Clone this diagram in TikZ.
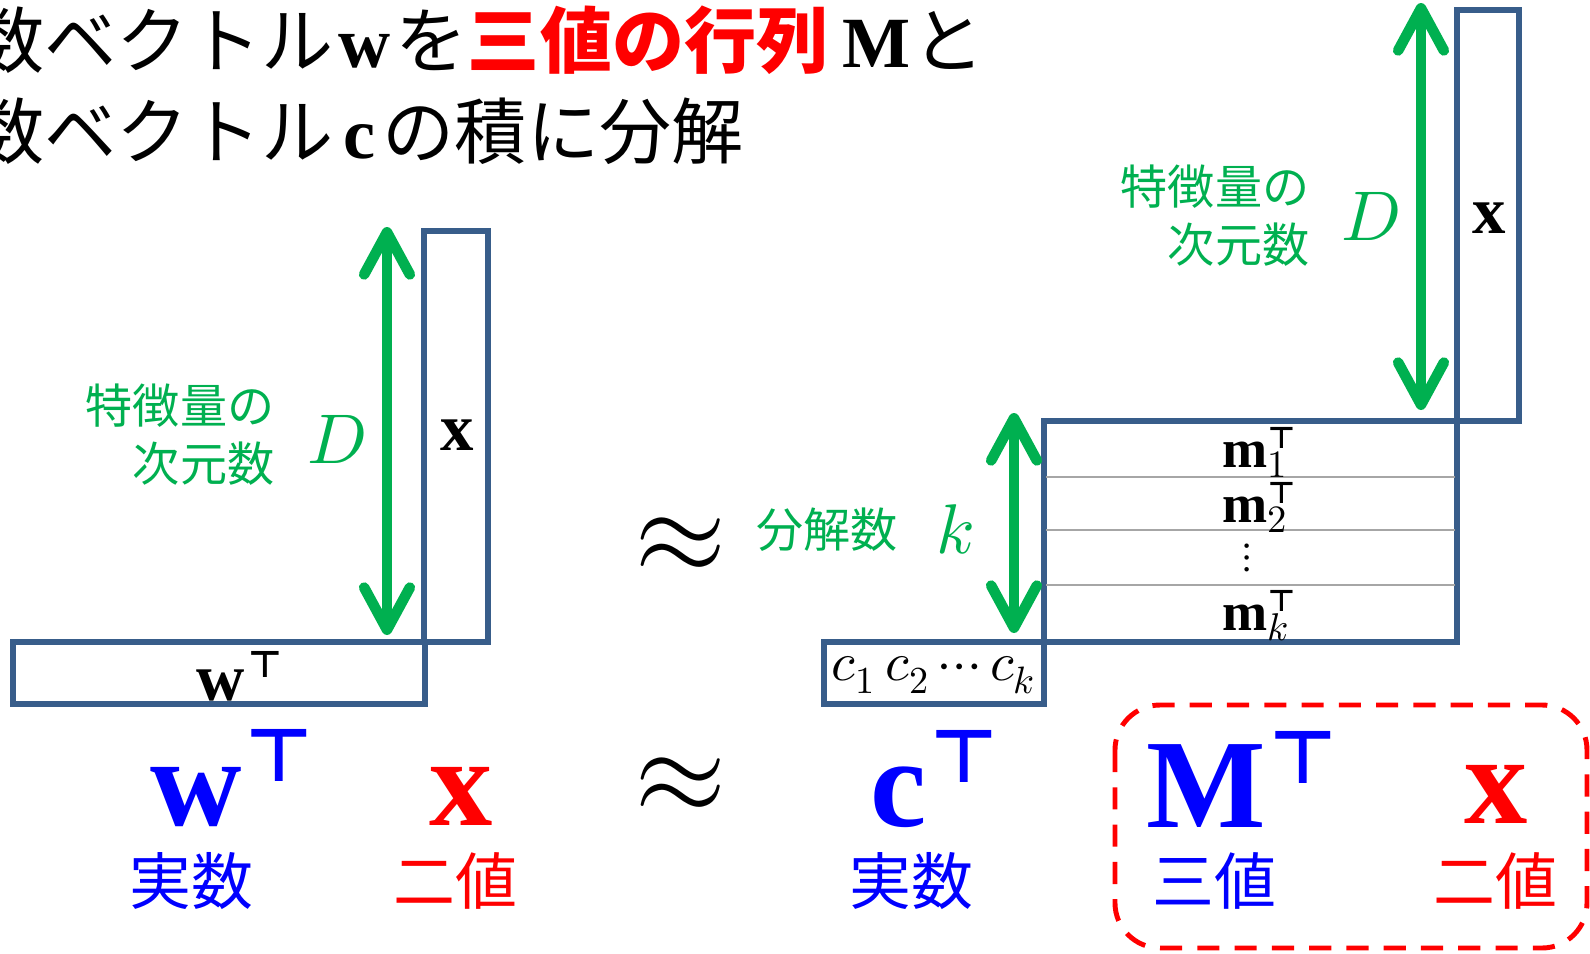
\documentclass[tikz,border=0pt]{standalone}
\usepackage{fontspec}
\usepackage{unicode-math}
\newfontfamily\jpfont{Noto Sans CJK JP}
\newfontfamily\vecfont{Liberation Serif}
\newfontfamily\symfont{DejaVu Sans}
\newcommand{\vb}[1]{{\vecfont\bfseries #1}}
\newcommand{\tp}[2]{\raisebox{#2}{\symfont\bfseries\fontsize{#1}{#1}\selectfont ⊤}}
\newcommand{\rowsub}[1]{\raisebox{-3pt}{\fontsize{11}{11}\selectfont$#1$}}
\usetikzlibrary{arrows.meta}
\definecolor{boxblue}{HTML}{385D8A}
\definecolor{dimgreen}{HTML}{00B050}
\definecolor{rowgray}{HTML}{A6A6A6}
\tikzset{
  matbox/.style={draw=boxblue, line width=1.5pt},
  dimarrow/.style={<->, draw=dimgreen, line width=3pt},
  dimtext/.style={text=dimgreen, inner sep=0pt, align=right, font=\jpfont\fontsize{13.4}{16.5}\selectfont},
  dimsym/.style={text=dimgreen, inner sep=0pt, anchor=base, font=\fontsize{20}{24}\selectfont},
  boxlabel/.style={inner sep=0pt, anchor=base, font=\fontsize{19}{23}\selectfont},
  rowlabel/.style={inner sep=0pt, anchor=base west, font=\fontsize{15.4}{18}\selectfont},
  biglabel/.style={inner sep=0pt, anchor=base west, font=\fontsize{36}{43}\selectfont},
  kindlabel/.style={inner sep=0pt, font=\jpfont\fontsize{17.6}{21}\selectfont},
  approxsym/.style={inner sep=0pt, font=\fontsize{34}{40}\selectfont}
}
\begin{document}
\begin{tikzpicture}[x=0.01cm, y=-0.01cm, >={Straight Barb[length=12pt,width=13pt,round]}]
  \useasboundingbox (0,0) rectangle (1590,954);

  % 1. タイトル（左端は切れている）
  \node[anchor=base west, inner sep=0pt, font=\jpfont\fontsize{20.5}{25}\selectfont] (title1) at (-100,67) {実数ベクトル\hspace{1.5pt}\vb{w}\hspace{1.5pt}を{\bfseries\color{red}三値の行列}\hspace{4pt}\vb{M}\hspace{0.5pt}と};
  \node[anchor=base west, inner sep=0pt, font=\jpfont\fontsize{20.5}{25}\selectfont] (title2) at (-100,158) {実数ベクトル\hspace{3pt}\vb{c}\hspace{2pt}の積に分解};

  % 2. 左: w^T x
  \draw[matbox] (424,231) rectangle (488,642);
  \draw[matbox] (13,642) rectangle (425,704);
  \node[boxlabel] (xL) at (457,450) {\vb{x}};
  \node[boxlabel, anchor=base west] (wL) at (196,700) {\vb{w}\hspace{1pt}\tp{10.5pt}{6.5pt}};

  \coordinate (DLtop) at (387,227);
  \coordinate (DLbot) at (387,635);
  \draw[dimarrow] (DLtop) -- (DLbot);
  \node[dimtext, anchor=east] (featL) at (275,435) {特徴量の\\次元数};
  \node[dimsym] (DL) at (337,463) {$D$};

  % 3. 右: c^T M^T x
  \draw[matbox] (1457,10) rectangle (1519,421);
  \draw[matbox] (1044,421) rectangle (1457,642);
  \draw[matbox] (824,642) rectangle (1044,704);
  \foreach \y in {477,530,585}
    \draw[rowgray, line width=0.7pt] (1046,\y) -- (1455,\y);

  \node[boxlabel] (xR) at (1489,233) {\vb{x}};
  \node[rowlabel] (m1) at (1222,467) {\vb{m}\rlap{\tp{8.5pt}{5.3pt}}\rowsub{1}};
  \node[rowlabel] (m2) at (1222,522) {\vb{m}\rlap{\tp{8.5pt}{5.3pt}}\rowsub{2}};
  \node[inner sep=0pt, font=\fontsize{12}{14}\selectfont] (mdots) at (1247,558) {$\vdots$};
  \node[rowlabel] (mk) at (1222,630) {\vb{m}\rlap{\tp{8.5pt}{5.3pt}}\rowsub{k}};
  \node[inner sep=0pt, anchor=base, font=\fontsize{15.5}{18}\selectfont] (cL) at (934,680) {$c_1\,c_2\cdots c_k$};

  \coordinate (DRtop) at (1421,3);
  \coordinate (DRbot) at (1421,410);
  \draw[dimarrow] (DRtop) -- (DRbot);
  \node[dimtext, anchor=east] (featR) at (1310,216) {特徴量の\\次元数};
  \node[dimsym] (DR) at (1371,240) {$D$};

  \coordinate (ktop) at (1014,413);
  \coordinate (kbot) at (1014,633);
  \draw[dimarrow] (ktop) -- (kbot);
  \node[dimtext] (rank) at (827,530) {分解数};
  \node[dimsym] (kR) at (955,553) {$k$};

  % 4. ≈
  \node[approxsym] (approx1) at (681,545) {$\approx$};
  \node[approxsym] (approx2) at (681,785) {$\approx$};

  % 5. 下段の記号
  \node[biglabel, text=blue] (wB) at (150,825) {\vb{w}\hspace{1pt}\tp{21pt}{12.5pt}};
  \node[biglabel, anchor=base, text=red] (xB) at (461,825) {\vb{x}};
  \node[biglabel, text=blue] (cB) at (870,826) {\vb{c}\hspace{1pt}\tp{21pt}{12.5pt}};
  \node[biglabel, text=blue] (MB) at (1146,827) {\vb{M}\hspace{1pt}\tp{21pt}{12.5pt}};
  \node[biglabel, anchor=base, text=red] (xB2) at (1496,823) {\vb{x}};

  \node[kindlabel, text=blue] (realL) at (191,881) {実数};
  \node[kindlabel, text=red] (binL) at (455,881) {二値};
  \node[kindlabel, text=blue] (realR) at (911,881) {実数};
  \node[kindlabel, text=blue] (ternR) at (1214,881) {三値};
  \node[kindlabel, text=red] (binR) at (1495,881) {二値};

  % 6. 破線の枠
  \draw[red, line width=1.4pt, dash pattern=on 6.3pt off 4.3pt, rounded corners=12.8pt] (1115,705) rectangle (1587,948);
\end{tikzpicture}
\end{document}
